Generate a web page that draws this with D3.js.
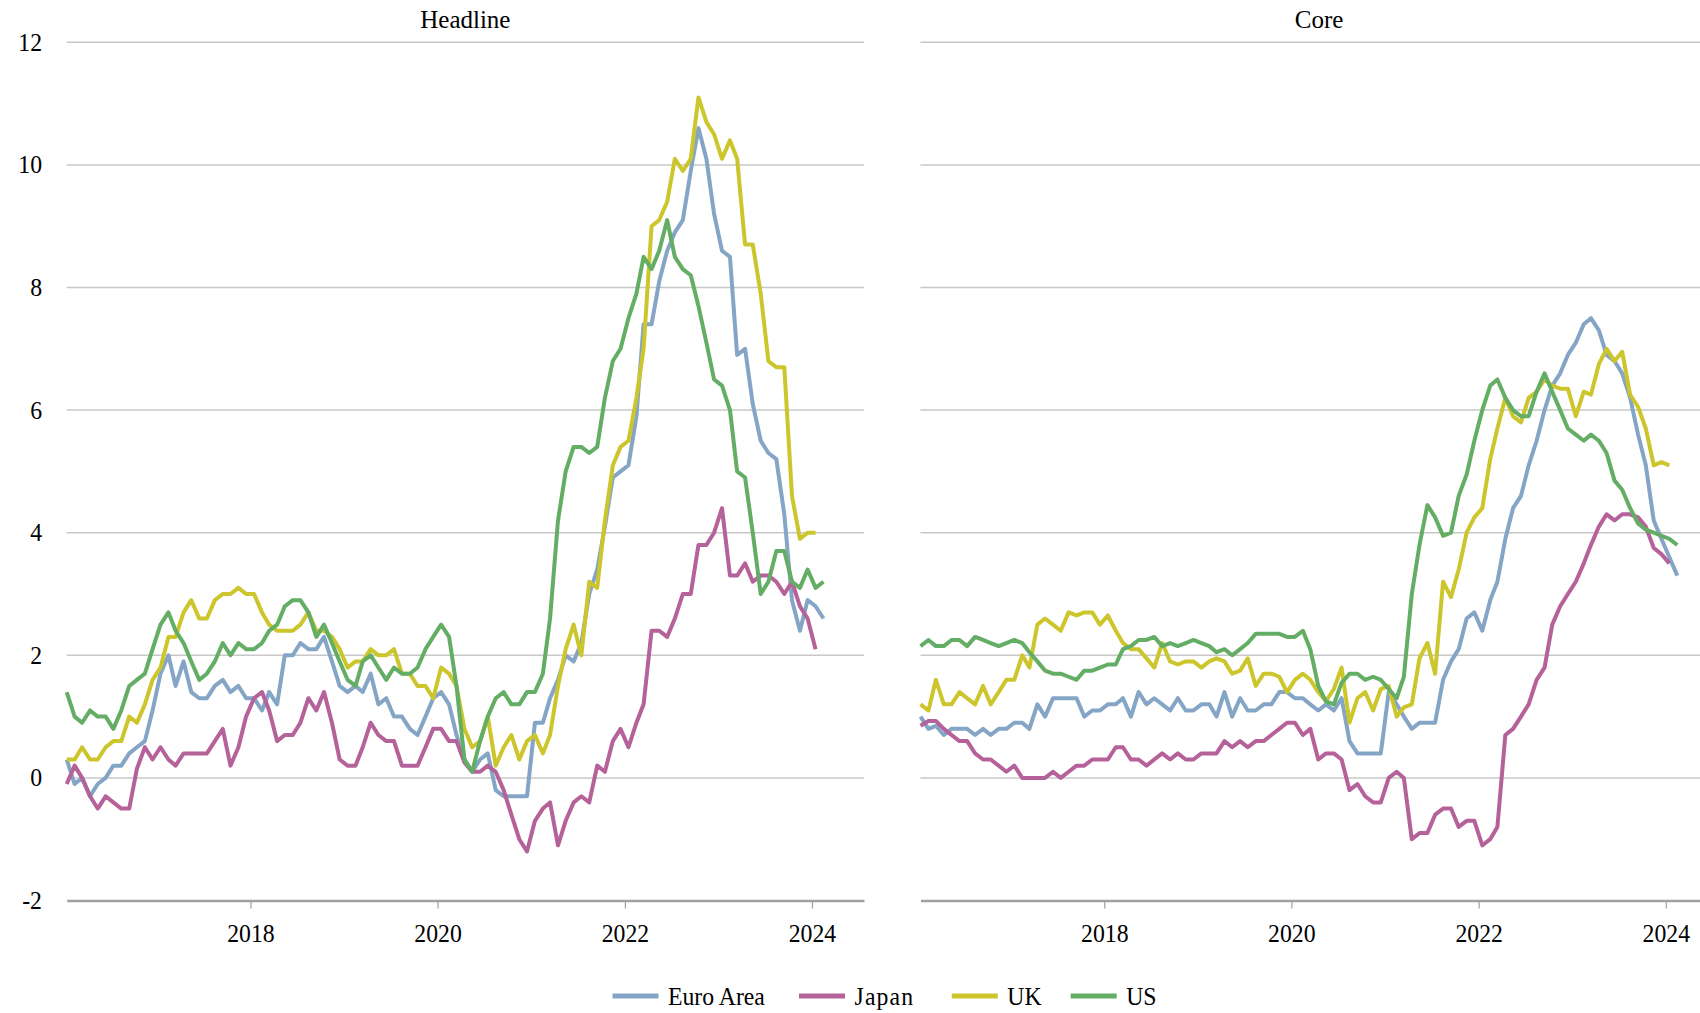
<!DOCTYPE html>
<html>
<head>
<meta charset="utf-8">
<script src="https://cdn.jsdelivr.net/npm/d3@7"></script>
<style>
  html, body { margin: 0; padding: 0; background: #fff; overflow: hidden; }
  svg { display: block; }
  text { font-family: "Liberation Serif", "Times New Roman", serif; fill: #000; }
</style>
</head>
<body>
<svg id="chart" width="1700" height="1013"></svg>
<script>
// Year-on-year inflation, %, monthly from Jan 2016
const seriesNames  = ["Euro Area", "Japan", "UK", "US"];
const panelTitles  = ["Headline", "Core"];
const yTickValues  = [12, 10, 8, 6, 4, 2, 0, -2];
const xTickYears   = [2018, 2020, 2022, 2024];

// Headline
const headlineEuro = [
  0.3, -0.1, 0.0, -0.3, -0.1, 0.0, 0.2, 0.2, 0.4, 0.5, 0.6, 1.1,
  1.7, 2.0, 1.5, 1.9, 1.4, 1.3, 1.3, 1.5, 1.6, 1.4, 1.5, 1.3,
  1.3, 1.1, 1.4, 1.2, 2.0, 2.0, 2.2, 2.1, 2.1, 2.3, 1.9, 1.5,
  1.4, 1.5, 1.4, 1.7, 1.2, 1.3, 1.0, 1.0, 0.8, 0.7, 1.0, 1.3,
  1.4, 1.2, 0.7, 0.3, 0.1, 0.3, 0.4, -0.2, -0.3, -0.3, -0.3, -0.3,
  0.9, 0.9, 1.3, 1.6, 2.0, 1.9, 2.2, 3.0, 3.4, 4.1, 4.9, 5.0,
  5.1, 5.9, 7.4, 7.4, 8.1, 8.6, 8.9, 9.1, 9.9, 10.6, 10.1, 9.2,
  8.6, 8.5, 6.9, 7.0, 6.1, 5.5, 5.3, 5.2, 4.3, 2.9, 2.4, 2.9,
  2.8, 2.6
];
const headlineJapan = [
  -0.1, 0.2, 0.0, -0.3, -0.5, -0.3, -0.4, -0.5, -0.5, 0.15, 0.5, 0.3,
  0.5, 0.3, 0.2, 0.4, 0.4, 0.4, 0.4, 0.6, 0.8, 0.2, 0.5, 1.0,
  1.3, 1.4, 1.1, 0.6, 0.7, 0.7, 0.9, 1.3, 1.1, 1.4, 0.9, 0.3,
  0.2, 0.2, 0.5, 0.9, 0.7, 0.6, 0.6, 0.2, 0.2, 0.2, 0.5, 0.8,
  0.8, 0.6, 0.6, 0.25, 0.1, 0.1, 0.2, 0.1, -0.2, -0.6, -1.0, -1.2,
  -0.7, -0.5, -0.4, -1.1, -0.7, -0.4, -0.3, -0.4, 0.2, 0.1, 0.6, 0.8,
  0.5, 0.9, 1.2, 2.4, 2.4, 2.3, 2.6, 3.0, 3.0, 3.8, 3.8, 4.0,
  4.4, 3.3, 3.3, 3.5, 3.2, 3.3, 3.3, 3.2, 3.0, 3.2, 2.8, 2.6,
  2.1
];
const headlineUK = [
  0.3, 0.3, 0.5, 0.3, 0.3, 0.5, 0.6, 0.6, 1.0, 0.9, 1.2, 1.6,
  1.8, 2.3, 2.3, 2.7, 2.9, 2.6, 2.6, 2.9, 3.0, 3.0, 3.1, 3.0,
  3.0, 2.7, 2.5, 2.4, 2.4, 2.4, 2.5, 2.7, 2.4, 2.4, 2.3, 2.1,
  1.8, 1.9, 1.9, 2.1, 2.0, 2.0, 2.1, 1.7, 1.7, 1.5, 1.5, 1.3,
  1.8, 1.7, 1.5, 0.8, 0.5, 0.6, 1.0, 0.2, 0.5, 0.7, 0.3, 0.6,
  0.7, 0.4, 0.7, 1.5, 2.1, 2.5, 2.0, 3.2, 3.1, 4.2, 5.1, 5.4,
  5.5, 6.2, 7.0, 9.0, 9.1, 9.4, 10.1, 9.9, 10.1, 11.1, 10.7, 10.5,
  10.1, 10.4, 10.1, 8.7, 8.7, 7.9, 6.8, 6.7, 6.7, 4.6, 3.9, 4.0,
  4.0
];
const headlineUS = [
  1.4, 1.0, 0.9, 1.1, 1.0, 1.0, 0.8, 1.1, 1.5, 1.6, 1.7, 2.1,
  2.5, 2.7, 2.4, 2.2, 1.9, 1.6, 1.7, 1.9, 2.2, 2.0, 2.2, 2.1,
  2.1, 2.2, 2.4, 2.5, 2.8, 2.9, 2.9, 2.7, 2.3, 2.5, 2.2, 1.9,
  1.6, 1.5, 1.9, 2.0, 1.8, 1.6, 1.8, 1.7, 1.7, 1.8, 2.1, 2.3,
  2.5, 2.3, 1.5, 0.3, 0.1, 0.6, 1.0, 1.3, 1.4, 1.2, 1.2, 1.4,
  1.4, 1.7, 2.6, 4.2, 5.0, 5.4, 5.4, 5.3, 5.4, 6.2, 6.8, 7.0,
  7.5, 7.9, 8.5, 8.3, 8.6, 9.1, 8.5, 8.3, 8.2, 7.7, 7.1, 6.5,
  6.4, 6.0, 5.0, 4.9, 4.0, 3.0, 3.2, 3.7, 3.7, 3.2, 3.1, 3.4,
  3.1, 3.2
];

// Core
const coreEuro = [
  1.0, 0.8, 0.85, 0.7, 0.8, 0.8, 0.8, 0.7, 0.8, 0.7, 0.8, 0.8,
  0.9, 0.9, 0.8, 1.2, 1.0, 1.3, 1.3, 1.3, 1.3, 1.0, 1.1, 1.1,
  1.2, 1.2, 1.3, 1.0, 1.4, 1.2, 1.3, 1.2, 1.1, 1.3, 1.1, 1.1,
  1.2, 1.2, 1.0, 1.4, 1.0, 1.3, 1.1, 1.1, 1.2, 1.2, 1.4, 1.4,
  1.3, 1.3, 1.2, 1.1, 1.2, 1.1, 1.3, 0.6, 0.4, 0.4, 0.4, 0.4,
  1.4, 1.2, 1.0, 0.8, 0.9, 0.9, 0.9, 1.6, 1.9, 2.1, 2.6, 2.7,
  2.4, 2.9, 3.2, 3.9, 4.4, 4.6, 5.1, 5.5, 6.0, 6.4, 6.6, 6.9,
  7.1, 7.4, 7.5, 7.3, 6.9, 6.8, 6.6, 6.2, 5.6, 5.1, 4.2, 3.9,
  3.6, 3.3
];
const coreJapan = [
  0.85, 0.93, 0.93, 0.8, 0.7, 0.6, 0.6, 0.4, 0.3, 0.3, 0.2, 0.1,
  0.2, 0.0, 0.0, 0.0, 0.0, 0.1, 0.0, 0.1, 0.2, 0.2, 0.3, 0.3,
  0.3, 0.5, 0.5, 0.3, 0.3, 0.2, 0.3, 0.4, 0.3, 0.4, 0.3, 0.3,
  0.4, 0.4, 0.4, 0.6, 0.5, 0.6, 0.5, 0.6, 0.6, 0.7, 0.8, 0.9,
  0.9, 0.7, 0.8, 0.3, 0.4, 0.4, 0.3, -0.2, -0.1, -0.3, -0.4, -0.4,
  0.0, 0.1, 0.0, -1.0, -0.9, -0.9, -0.6, -0.5, -0.5, -0.8, -0.7, -0.7,
  -1.1, -1.0, -0.8, 0.7, 0.8, 1.0, 1.2, 1.6, 1.8, 2.5, 2.8, 3.0,
  3.2, 3.5, 3.8, 4.1, 4.3, 4.2, 4.3, 4.3, 4.25, 4.1, 3.75, 3.65,
  3.5
];
const coreUK = [
  1.2, 1.1, 1.6, 1.2, 1.2, 1.4, 1.3, 1.2, 1.5, 1.2, 1.4, 1.6,
  1.6, 2.0, 1.8, 2.5, 2.6, 2.5, 2.4, 2.7, 2.65, 2.7, 2.7, 2.5,
  2.65, 2.4, 2.2, 2.1, 2.1, 1.95, 1.8, 2.2, 1.9, 1.85, 1.9, 1.9,
  1.8, 1.9, 1.95, 1.9, 1.7, 1.75, 1.95, 1.5, 1.7, 1.7, 1.65, 1.4,
  1.6, 1.7, 1.6, 1.4, 1.25, 1.45, 1.8, 0.9, 1.3, 1.4, 1.1, 1.45,
  1.5, 1.0, 1.15, 1.2, 1.95, 2.2, 1.7, 3.2, 2.95, 3.4, 4.0, 4.25,
  4.4, 5.2, 5.7, 6.2, 5.9, 5.8, 6.2, 6.3, 6.5, 6.4, 6.35, 6.35,
  5.9, 6.3, 6.25, 6.75, 7.0, 6.8, 6.95, 6.25, 6.05, 5.7, 5.1, 5.15,
  5.1
];
const coreUS = [
  2.15, 2.25, 2.15, 2.15, 2.25, 2.25, 2.15, 2.3, 2.25, 2.2, 2.15, 2.2,
  2.25, 2.2, 2.05, 1.9, 1.75, 1.7, 1.7, 1.65, 1.6, 1.75, 1.75, 1.8,
  1.85, 1.85, 2.1, 2.15, 2.25, 2.25, 2.3, 2.15, 2.2, 2.15, 2.2, 2.25,
  2.2, 2.15, 2.05, 2.1, 2.0, 2.1, 2.2, 2.35, 2.35, 2.35, 2.35, 2.3,
  2.3, 2.4, 2.1, 1.5, 1.25, 1.2, 1.55, 1.7, 1.7, 1.6, 1.65, 1.6,
  1.45, 1.3, 1.65, 3.0, 3.8, 4.45, 4.25, 3.95, 4.0, 4.6, 4.95, 5.5,
  6.0, 6.4, 6.5, 6.2, 6.0, 5.9, 5.9, 6.3, 6.6, 6.3, 6.0, 5.7,
  5.6, 5.5, 5.6, 5.5, 5.3, 4.85, 4.7, 4.4, 4.15, 4.05, 4.0, 3.95,
  3.9, 3.8
];

const panels = [
  { title: panelTitles[0], series: [headlineEuro, headlineJapan, headlineUK, headlineUS] },
  { title: panelTitles[1], series: [coreEuro, coreJapan, coreUK, coreUS] }
];

// ---- layout & style ----
const colors = ["#84a5c6", "#b5619a", "#ccc52c", "#64ad64"];
const panelLeft = [66.7, 920.5];
const panelWidth = 797.3;
const plotTop = 42.3, plotBottom = 900.5;
const fontSize = 25, squeeze = 0.95;
const fontStack = "Liberation Serif, Times New Roman, serif";

const svg = d3.select("#chart");

const x = d3.scaleTime()
  .domain([new Date(2016, 0, 15), new Date(2024, 6, 22)])
  .range([0, panelWidth]);
const y = d3.scaleLinear().domain([-2, 12]).range([plotBottom, plotTop]);

// monthly observations are placed mid-month
const toPoints = vals => vals.map((v, i) => ({ date: new Date(2016, i, 15), value: v }));
const line = d3.line().x(d => x(d.date)).y(d => y(d.value));

panels.forEach((p, pi) => {
  const g = svg.append("g").attr("transform", `translate(${panelLeft[pi]},0)`);

  // horizontal gridlines
  g.append("g").selectAll("line")
    .data(yTickValues.filter(v => v > -2))
    .join("line")
    .attr("x1", 0).attr("x2", panelWidth)
    .attr("y1", d => y(d)).attr("y2", d => y(d))
    .attr("stroke", "#c8c8c8").attr("stroke-width", 1.5);

  // bottom date axis
  const xAxis = d3.axisBottom(x)
    .tickValues(xTickYears.map(yr => new Date(yr, 0, 1)))
    .tickFormat(d3.timeFormat("%Y"))
    .tickSize(8).tickSizeOuter(0).tickPadding(15.5);
  const ax = g.append("g").attr("transform", `translate(0,${plotBottom})`).call(xAxis);
  ax.select(".domain").attr("stroke", "#a0a0a0").attr("stroke-width", 2.5);
  ax.selectAll(".tick line").attr("stroke", "#a0a0a0").attr("stroke-width", 1.2);
  ax.selectAll(".tick text")
    .attr("font-size", fontSize)
    .attr("font-family", fontStack)
    .attr("fill", "#000")
    .attr("transform", `scale(${squeeze},1)`);

  // value axis labels only on the first panel (plain hyphen for negatives)
  if (pi === 0) {
    const yAxis = d3.axisLeft(y).tickValues(yTickValues)
      .tickFormat(d => String(d)).tickSize(0).tickPadding(0);
    const ay = g.append("g").call(yAxis);
    ay.select(".domain").remove();
    ay.selectAll(".tick text")
      .attr("x", null)
      .attr("font-size", fontSize)
      .attr("font-family", fontStack)
      .attr("fill", "#000")
      .attr("transform", `translate(-24.7,0) scale(${squeeze},1)`);
  }

  // panel title
  g.append("text")
    .attr("x", panelWidth / 2).attr("y", 28)
    .attr("text-anchor", "middle")
    .attr("font-size", fontSize)
    .text(p.title);

  // series
  p.series.forEach((vals, si) => {
    g.append("path")
      .datum(toPoints(vals))
      .attr("d", line)
      .attr("fill", "none")
      .attr("stroke", colors[si])
      .attr("stroke-width", 4)
      .attr("stroke-linejoin", "round")
      .attr("stroke-linecap", "butt");
  });
});

// legend
const legendX = [612.5, 799, 951.8, 1070.7];
const legend = svg.append("g");
seriesNames.forEach((name, i) => {
  legend.append("line")
    .attr("x1", legendX[i]).attr("x2", legendX[i] + 46)
    .attr("y1", 996).attr("y2", 996)
    .attr("stroke", colors[i]).attr("stroke-width", 5);
  legend.append("text")
    .attr("transform", `translate(${legendX[i] + 55.5},1005) scale(${squeeze},1)`)
    .attr("font-size", fontSize)
    .attr("letter-spacing", name === "Japan" ? 1.2 : 0)
    .text(name);
});
</script>
</body>
</html>
